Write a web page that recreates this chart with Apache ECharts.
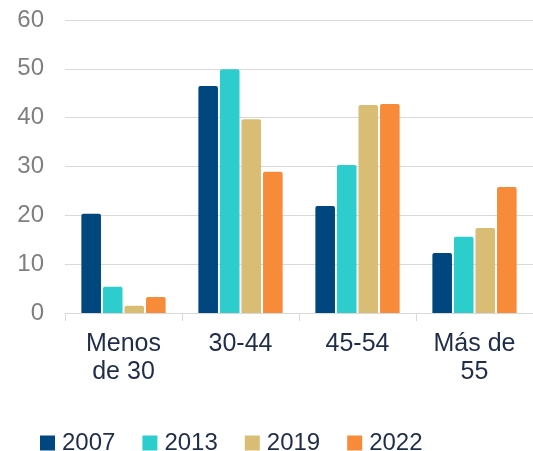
<!DOCTYPE html>
<html>
<head>
<meta charset="utf-8"/>
<title>Edad</title>
<script src="https://cdn.jsdelivr.net/npm/echarts@6/dist/echarts.min.js"></script>
<style>
  html, body { margin: 0; padding: 0; background: #fff; }
  #chart { width: 533px; height: 451px; }
</style>
</head>
<body>
<div id="chart"></div>
<script type="text/javascript">
    // datos
    var categorias = ['Menos\nde 30', '30-44', '45-54', 'Más de\n55'];
    var anios = ['2007', '2013', '2019', '2022'];
    var v2007 = [20.3, 46.5, 21.9, 12.3];
    var v2013 = [5.4, 49.9, 30.3, 15.6];
    var v2019 = [1.5, 39.7, 42.6, 17.4];
    var v2022 = [3.3, 28.9, 42.8, 25.8];
    var colores = ['#00467f', '#2ecdcd', '#d9bd75', '#f78b3a'];

    var valores = [v2007, v2013, v2019, v2022];
    var chart = echarts.init(document.getElementById('chart'));

    var series = anios.map(function (anio, i) {
        return {
            name: anio,
            type: 'bar',
            data: valores[i],
            barGap: '10%',
            barCategoryGap: '28%',
            itemStyle: {
                color: colores[i],
                borderRadius: [2, 2, 0, 0]
            }
        };
    });

    var option = {
        animation: false,
        textStyle: { fontFamily: 'Liberation Sans, Arial, sans-serif' },
        grid: {
            left: 65,
            right: 0,
            top: 20,
            bottom: 138
        },
        legend: {
            data: anios,
            left: 35,
            top: 426,
            icon: 'rect',
            itemWidth: 15,
            itemHeight: 15,
            itemGap: 27,
            textStyle: {
                fontSize: 24,
                color: '#1f2d4a',
                padding: [0, 0, 0, 2]
            }
        },
        xAxis: {
            type: 'category',
            data: categorias,
            axisLine: { lineStyle: { color: '#d9d9d9', width: 1 } },
            axisTick: { show: true, length: 8, lineStyle: { color: '#d9d9d9' } },
            axisLabel: {
                interval: 0,
                margin: 17,
                fontSize: 25,
                lineHeight: 28,
                color: '#1f2d4a'
            }
        },
        yAxis: {
            type: 'value',
            min: 0,
            max: 60,
            interval: 10,
            axisLine: { show: false },
            axisTick: { show: false },
            splitLine: { lineStyle: { color: '#d9d9d9', width: 1 } },
            axisLabel: {
                fontSize: 24,
                margin: 21,
                color: '#7f7f7f'
            }
        },
        series: series
    };
    chart.setOption(option);
</script>
</body>
</html>
